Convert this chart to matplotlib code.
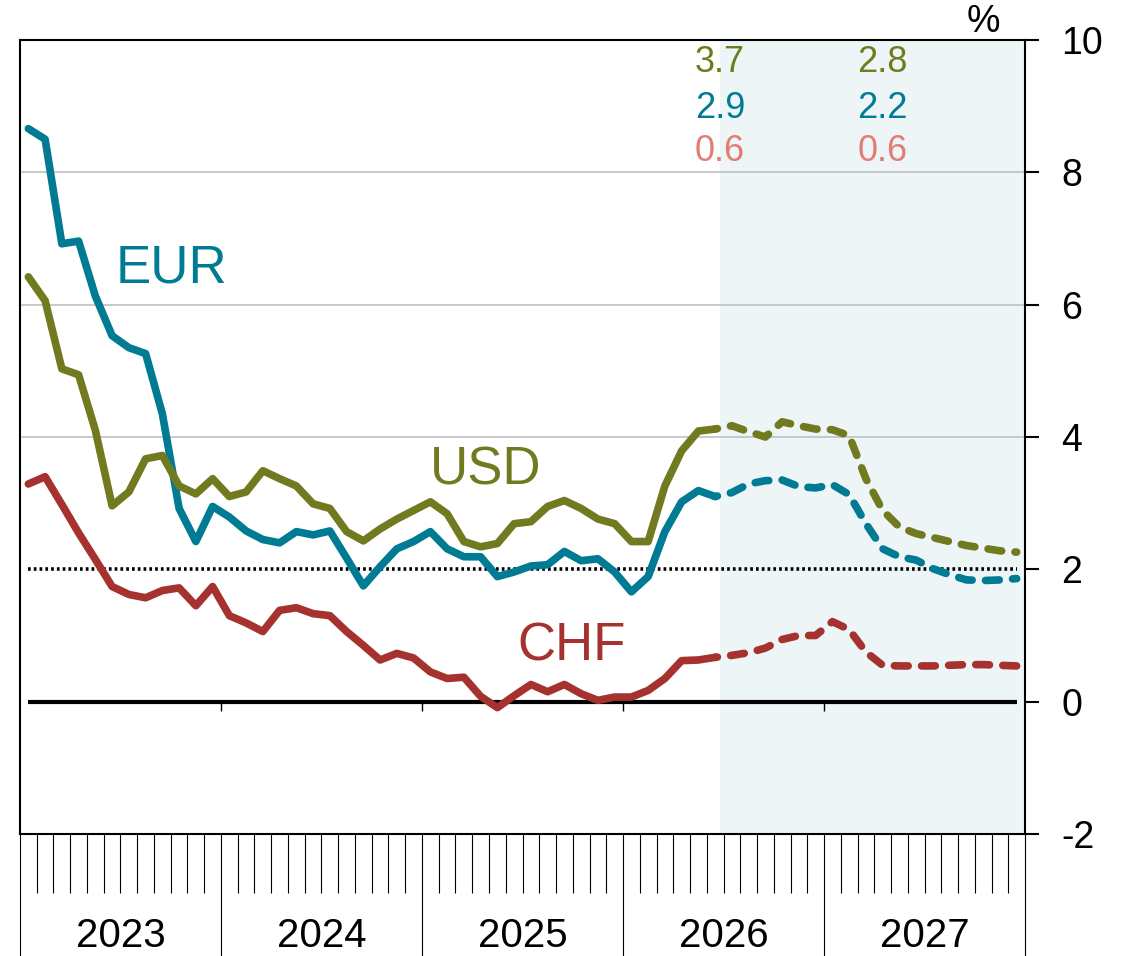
"""
Interest rate paths (EUR, USD, CHF) with forecast section, monthly 2023-2027.
"""
import matplotlib
matplotlib.use("Agg")
import matplotlib.pyplot as plt
import numpy as np

plt.rcParams["font.family"] = ["Liberation Sans", "DejaVu Sans"]
plt.rcParams["axes.unicode_minus"] = False

# --- data (monthly, Jan 2023 - Dec 2027) ---
years = ["2023", "2024", "2025", "2026", "2027"]
eur = [8.66, 8.50, 6.92, 6.96, 6.13, 5.53, 5.35, 5.26, 4.35, 2.92, 2.42, 2.95,
       2.79, 2.58, 2.45, 2.40, 2.57, 2.52, 2.58, 2.17, 1.75, 2.04, 2.31, 2.42,
       2.57, 2.31, 2.19, 2.19, 1.89, 1.96, 2.05, 2.07, 2.27, 2.13, 2.16, 1.96,
       1.66, 1.89, 2.57, 3.02, 3.19, 3.10, 3.16, 3.29, 3.34, 3.35, 3.25, 3.23,
       3.28, 3.13, 2.69, 2.31, 2.19, 2.14, 2.01, 1.92, 1.84, 1.83, 1.84, 1.86]
usd = [6.42, 6.06, 5.03, 4.94, 4.10, 2.96, 3.17, 3.67, 3.72, 3.26, 3.14, 3.37,
       3.10, 3.17, 3.49, 3.37, 3.26, 2.99, 2.92, 2.57, 2.43, 2.61, 2.76, 2.89,
       3.02, 2.84, 2.42, 2.34, 2.39, 2.69, 2.72, 2.95, 3.04, 2.92, 2.76, 2.69,
       2.42, 2.42, 3.26, 3.79, 4.09, 4.12, 4.17, 4.08, 4.00, 4.23, 4.17, 4.12,
       4.11, 4.02, 3.37, 2.89, 2.64, 2.54, 2.48, 2.42, 2.36, 2.32, 2.28, 2.26]
chf = [3.29, 3.40, 2.98, 2.55, 2.15, 1.74, 1.62, 1.57, 1.68, 1.72, 1.45, 1.74,
       1.30, 1.19, 1.06, 1.38, 1.42, 1.33, 1.30, 1.06, 0.85, 0.63, 0.73, 0.66,
       0.45, 0.35, 0.37, 0.08, -0.09, 0.09, 0.26, 0.15, 0.26, 0.12, 0.02, 0.07,
       0.07, 0.17, 0.35, 0.62, 0.63, 0.67, 0.70, 0.74, 0.81, 0.94, 1.00, 1.00,
       1.21, 1.09, 0.75, 0.55, 0.54, 0.54, 0.54, 0.55, 0.56, 0.56, 0.55, 0.54]
# annual averages shown top right (2026, 2027)
usd_avg = ["3.7", "2.8"]
eur_avg = ["2.9", "2.2"]
chf_avg = ["0.6", "0.6"]

split = 41          # last month drawn solid
shade_start = 41.8  # start of forecast shading (months from Jan 2023)

C_EUR = "#007b93"
C_USD = "#717a1e"
C_CHF = "#a6322f"
C_CHF_LIGHT = "#e27d74"

x = np.arange(60) + 0.5

fig = plt.figure(figsize=(11.29, 9.56), dpi=100)
ax = fig.add_axes([0.0177, 0.1276, 0.8902, 0.8306])
ax.set_xlim(0, 60)
ax.set_ylim(-2, 10)

ax.axvspan(shade_start, 60, color="#edf5f7", zorder=0, lw=0)
for g in [4, 6, 8]:
    ax.axhline(g, color="#c0c0c0", lw=1.2, zorder=1)
ax.plot([0.5, 59.5], [2, 2], color="black", lw=2.6, ls=(0, (0.75, 0.85)), zorder=2)
ax.plot([0.5, 59.5], [0, 0], color="black", lw=3, zorder=2, solid_capstyle="butt")
ax.vlines([12, 24, 36, 48], -0.14, 0, color="black", lw=1, zorder=2)

for vals, col in [(chf, C_CHF), (eur, C_EUR), (usd, C_USD)]:
    vals = np.array(vals)
    ax.plot(x[:split + 1], vals[:split + 1], color=col, lw=5.5,
            solid_capstyle="round", solid_joinstyle="round", zorder=3)
    ax.plot(x[split:], vals[split:], color=col, lw=5.5, ls=(1.5, (1.8, 1.75)),
            dash_capstyle="round", dash_joinstyle="round", zorder=3)

# series labels
ax.text(9.05, 6.54, "EUR", color=C_EUR, fontsize=38, ha="center", va="center")
ax.text(27.8, 3.5, "USD", color=C_USD, fontsize=38, ha="center", va="center")
ax.text(32.9, 0.84, "CHF", color=C_CHF, fontsize=38, ha="center", va="center")

# annual averages
for col_x, k in [(41.8, 0), (51.5, 1)]:
    ax.text(col_x, 9.66, usd_avg[k], color=C_USD, fontsize=26, ha="center", va="center")
    ax.text(col_x, 8.96, eur_avg[k], color=C_EUR, fontsize=26, ha="center", va="center")
    ax.text(col_x, 8.31, chf_avg[k], color=C_CHF_LIGHT, fontsize=26, ha="center", va="center")

# right y axis
ax.yaxis.tick_right()
ax.set_yticks(range(-2, 11, 2))
ax.tick_params(axis="y", length=10, width=1.5, labelsize=27, pad=16)
for lab in ax.get_yticklabels():
    lab.set_horizontalalignment("left")
fig.text(0.871, 0.977, "%", fontsize=27, ha="center", va="center")

# bottom month / year ticks
ax.set_xticks(np.arange(0, 61, 12))
ax.set_xticks(np.arange(0, 61, 1), minor=True)
ax.tick_params(axis="x", which="major", length=88, width=0.8, labelbottom=False)
ax.tick_params(axis="x", which="minor", length=42.5, width=0.8)
for i, yr in enumerate(years):
    ax.text(i * 12 + 6, -0.105, yr, transform=ax.get_xaxis_transform(),
            fontsize=29, ha="center", va="top")

for s in ax.spines.values():
    s.set_linewidth(1.5)

fig.savefig("out.png", dpi=100)
